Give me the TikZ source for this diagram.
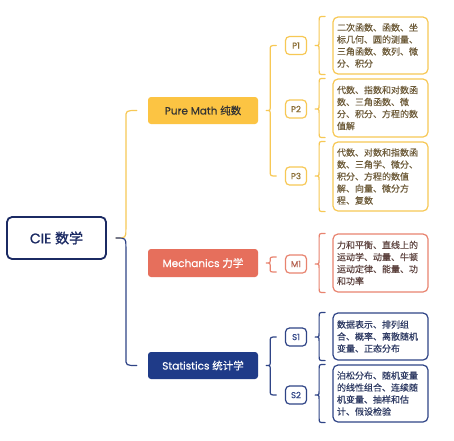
\documentclass[tikz,border=0pt]{standalone}
\usepackage{fontspec}
\setmainfont{Poppins}[FakeBold=0.4]
\newfontfamily\heavy{Poppins}[FakeBold=1.2]
\newfontfamily\cjk{Noto Sans CJK SC}[FakeBold=0.4]
\newfontfamily\cjkheavy{Noto Sans CJK SC}[FakeBold=1.2]
\usetikzlibrary{calc}
\definecolor{yfill}{HTML}{FCC443}
\definecolor{yline}{HTML}{F7C855}
\definecolor{ytext}{HTML}{6E5C3A}
\definecolor{ylab}{HTML}{8A6D33}
\definecolor{rfill}{HTML}{E66F5C}
\definecolor{rline}{HTML}{E8836F}
\definecolor{rtext}{HTML}{5E4440}
\definecolor{rlab}{HTML}{B5604F}
\definecolor{nfill}{HTML}{1F3B88}
\definecolor{nline}{HTML}{2F4486}
\definecolor{ntext}{HTML}{2E3A63}
\definecolor{cieline}{HTML}{1B2A63}
\newcommand{\brc}[5]{%
\draw[#1] let \p1=(#2.east), \p2=(#3), \p3=(#4) in
 (\x1+18pt,\y2) .. controls (\x1+12pt,\y2) .. (\x1+12pt,\y2-#5) -- (\x1+12pt,\y1+4pt)
 .. controls (\x1+12pt,\y1) .. (\x1+8pt,\y1) .. controls (\x1+12pt,\y1) .. (\x1+12pt,\y1-4pt)
 -- (\x1+12pt,\y3+#5) .. controls (\x1+12pt,\y3) .. (\x1+18pt,\y3);}
\tikzset{
  conn/.style={line width=1.2pt, line cap=round, line join=round},
  topic/.style={rounded corners=3pt, minimum width=110pt, inner sep=0pt, font=\fontsize{10.5}{12}\selectfont},
  lab/.style={draw, line width=1.2pt, fill=white, rounded corners=4pt, minimum width=21pt, minimum height=18pt, inner sep=0pt, font=\fontsize{8.5}{10}\selectfont},
  tbox/.style={draw, line width=1.2pt, fill=white, rounded corners=5pt, text width=87pt, inner sep=4pt, align=left, font=\cjk\fontsize{9}{12}\selectfont},
}
\begin{document}
\begin{tikzpicture}[x=1pt,y=-1pt]
\useasboundingbox (0,0) rectangle (454,440);
\fill[white] (0,0) rectangle (454,440);
% root
\node[draw=cieline, line width=1.8pt, rounded corners=5pt, fill=white, minimum width=99pt, minimum height=42pt, inner sep=0pt, text=cieline, font=\heavy\fontsize{14}{16}\selectfont] (cie) at (56.5,238) {CIE {\cjkheavy 数学}};
% main topics
\node[topic, fill=yfill, minimum height=27pt, text=black!80] (pm) at (203,110.5) {Pure Math {\cjk 纯数}};
\node[topic, fill=rfill, minimum height=28pt, text=white] (mech) at (203,263) {Mechanics {\cjk 力学}};
\node[topic, fill=nfill, minimum height=27pt, text=white] (stat) at (203,365.5) {Statistics {\cjk 统计学}};
% labels
\node[lab, draw=yline, text=ylab] (p1) at (296,45.5) {P1};
\node[lab, draw=yline, text=ylab] (p2) at (296,109) {P2};
\node[lab, draw=yline, text=ylab] (p3) at (296,176) {P3};
\node[lab, draw=rline, text=rlab] (m1) at (296,264) {M1};
\node[lab, draw=nline, text=nline] (s1) at (296,337) {S1};
\node[lab, draw=nline, text=nline] (s2) at (296,395) {S2};
% text boxes
\node[tbox, draw=yline, text=ytext, minimum height=57pt] (p1t) at (380.5,45.5) {二次函数、函数、坐\\标几何、圆的测量、\\三角函数、数列、微\\分、积分};
\node[tbox, draw=yline, text=ytext, minimum height=58pt] (p2t) at (380.5,108) {代数、指数和对数函\\数、三角函数、微\\分、积分、方程的数\\值解};
\node[tbox, draw=yline, text=ytext, minimum height=69pt] (p3t) at (380.5,176.5) {代数、对数和指数函\\数、三角学、微分、\\积分、方程的数值\\解、向量、微分方\\程、复数};
\node[tbox, draw=rline, text=rtext, minimum height=58pt] (m1t) at (380.5,263) {力和平衡、直线上的\\运动学、动量、牛顿\\运动定律、能量、功\\和功率};
\node[tbox, draw=nline, text=ntext, minimum height=47pt] (s1t) at (380.5,336.5) {数据表示、排列组\\合、概率、离散随机\\变量、正态分布};
\node[tbox, draw=nline, text=ntext, minimum height=57pt] (s2t) at (380.5,393.5) {泊松分布、随机变量\\的线性组合、连续随\\机变量、抽样和估\\计、假设检验};
% root connectors
\draw[conn, yline] let \p1=(cie.east), \p2=(pm.west) in
  (\x1+9pt,\y1) .. controls (\x1+19pt,\y1) .. (\x1+19pt,\y1+9pt) -- (\x1+19pt,\y2-8pt)
  .. controls (\x1+19pt,\y2) .. (\x2-11pt,\y2);
\draw[conn, nline] let \p1=(cie.east), \p2=(stat.west) in
  (\x1+9pt,\y1) .. controls (\x1+19pt,\y1) .. (\x1+19pt,\y1-9pt) -- (\x1+19pt,\y2+8pt)
  .. controls (\x1+19pt,\y2) .. (\x2-11pt,\y2);
% level-2 braces
\brc{conn, yline}{pm}{p1.west}{p3.west}{5pt}
\brc{conn, rline}{mech}{$(m1.center)+(0,-7)$}{$(m1.center)+(0,8)$}{3pt}
\brc{conn, nline}{stat}{s1.west}{s2.west}{5pt}
% level-3 braces
\brc{conn, yline}{p1}{p1t.north west}{p1t.south west}{5pt}
\brc{conn, yline}{p2}{p2t.north west}{p2t.south west}{5pt}
\brc{conn, yline}{p3}{p3t.north west}{p3t.south west}{5pt}
\brc{conn, rline}{m1}{m1t.north west}{m1t.south west}{5pt}
\brc{conn, nline}{s1}{s1t.north west}{s1t.south west}{5pt}
\brc{conn, nline}{s2}{s2t.north west}{s2t.south west}{5pt}
\end{tikzpicture}
\end{document}
